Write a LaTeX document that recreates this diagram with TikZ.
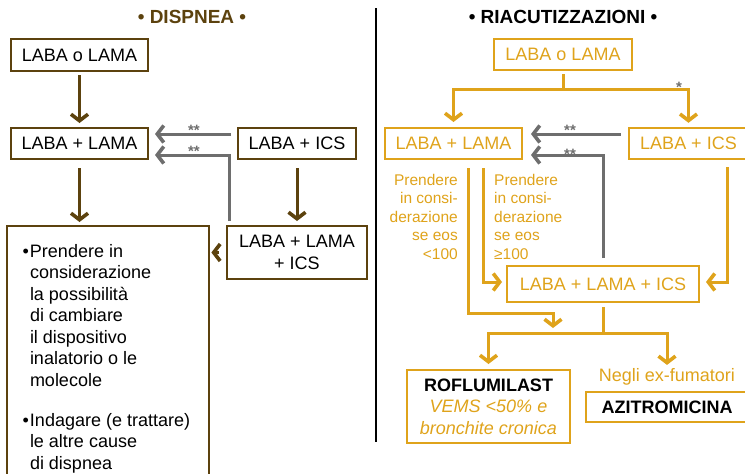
\documentclass[tikz,border=0pt]{standalone}
\usepackage{fontspec}
\setmainfont{Liberation Sans}
\usetikzlibrary{arrows.meta}
\definecolor{brn}{HTML}{5C420E}
\definecolor{gld}{HTML}{DFA31B}
\definecolor{gry}{HTML}{6E6E6E}
\begin{document}
\begin{tikzpicture}[x=1pt,y=-1pt,
  every node/.style={font=\fontsize{18}{21.5}\selectfont, inner sep=0pt},
  bbox/.style={draw=brn, line width=2pt, text=black},
  gbox/.style={draw=gld, line width=2pt, text=gld},
  barb/.style={-{Straight Barb[length=6.5pt,width=17pt,line width=3.6pt]}, line width=3pt},
  barr/.style={barb, draw=brn},
  garr/.style={barb, draw=gld},
  grarr/.style={barb, draw=gry},
  gline/.style={draw=gld, line width=3pt},
  star/.style={text=gry, font=\bfseries\fontsize{15}{15}\selectfont},
  small/.style={text=gld, font=\fontsize{15.5}{18.5}\selectfont},
  ttl/.style={font=\bfseries\fontsize{19}{22}\selectfont},
]
\useasboundingbox (0,0) rectangle (745,474);

% titles
\node[ttl, text=brn] (T1) at (192,17) {\textbullet{} DISPNEA \textbullet};
\node[ttl, text=black] (T2) at (563,17) {\textbullet{} RIACUTIZZAZIONI \textbullet};

% divider
\coordinate (d1) at (376,8);
\coordinate (d2) at (376,442);
\draw[line width=2pt, black] (d1) -- (d2);

% ---------- left panel ----------
\node[bbox, minimum width=137pt, minimum height=32pt] (L1) at (79.5,55) {LABA o LAMA};
\node[bbox, minimum width=137pt, minimum height=31pt] (L2) at (79.5,143.5) {LABA + LAMA};
\node[bbox, minimum width=118pt, minimum height=31pt] (L3) at (297,143.5) {LABA + ICS};
\node[bbox, minimum width=140pt, minimum height=53pt, align=center] (L4) at (297,252.5) {LABA + LAMA\\+ ICS};
\node[minimum width=202pt, minimum height=252pt, anchor=north west] (L5) at (7,226) {};
\draw[brn, line width=2pt] (L5.south west) |- (L5.north east) -- (L5.south east);
\node[anchor=north west, align=left] (L5t) at (22.5,242) {%
\begin{tabular}{@{}l@{\hspace{1pt}}l@{}}
\textbullet & Prendere in\\
 & considerazione\\
 & la possibilità\\
 & di cambiare\\
 & il dispositivo\\
 & inalatorio o le\\
 & molecole\\[18.5pt]
\textbullet & Indagare (e trattare)\\
 & le altre cause\\
 & di dispnea
\end{tabular}};

\draw[barr, shorten <=3pt, shorten >=4pt] (L1) -- (L2);
\draw[barr, shorten <=8pt, shorten >=4pt] (L2.south) -- (L2.south |- L5.north);
\draw[barr, shorten <=8pt, shorten >=4pt] (L3.south) -- (L3.south |- L4.north);
\draw[barr, shorten <=7pt, shorten >=2pt] (L4.west) -- (L4.west -| L5.east);
\draw[grarr, shorten <=6pt, shorten >=6pt] ([yshift=9.5pt]L3.west) -- ([yshift=9.5pt]L2.east);
\draw[grarr, shorten <=4pt, shorten >=6pt] ([xshift=3pt]L4.north west) |- ([yshift=-11.5pt]L2.east);
\node[star] (s1) at (194,130) {**};
\node[star] (s2) at (194,151) {**};

% ---------- right panel ----------
\node[gbox, minimum width=138pt, minimum height=31pt] (R1) at (563,54.5) {LABA o LAMA};
\node[gbox, minimum width=137pt, minimum height=31pt] (R2) at (453.5,143.5) {LABA + LAMA};
\node[minimum width=119pt, minimum height=31pt, text=gld] (R3) at (688.5,143.5) {LABA + ICS};
\draw[gld, line width=2pt] (R3.north east) -| (R3.south west) -- (R3.south east);
\node[gbox, minimum width=192pt, minimum height=36pt] (R4) at (603,284) {LABA + LAMA + ICS};
\node[gbox, minimum width=163pt, minimum height=73pt, align=center] (R5) at (488.5,406.5)
  {{\color{black}\bfseries ROFLUMILAST}\\ \itshape VEMS <50\% e\\ \itshape bronchite cronica};
\node[minimum width=162pt, minimum height=30pt, text=black] (R6) at (667,407) {\bfseries AZITROMICINA};
\draw[gld, line width=2pt] (R6.north east) -| (R6.south west) -- (R6.south east);
\node[text=gld] (NX) at (667,377) {Negli ex-fumatori};

\node[small, align=right, anchor=north east] (P1) at (458,174) {Prendere\\in consi-\\derazione\\se eos\\<100};
\node[small, align=left, anchor=north west] (P2) at (494,174) {Prendere\\in consi-\\derazione\\se eos\\≥100};

\coordinate (j1) at (563,89);
\draw[gline, shorten <=3pt] (R1.south) -- (j1);
\draw[garr, shorten >=5pt] (j1) -| (R2.north);
\draw[garr, shorten >=5pt] (j1) -| (R3.north);
\node[star] (s5) at (679,87) {*};

\draw[grarr, shorten <=8pt, shorten >=8pt] ([yshift=9.5pt]R3.west) -- ([yshift=9.5pt]R2.east);
\draw[grarr, shorten <=7pt, shorten >=8pt] (R4.north) |- ([yshift=-11.5pt]R2.east);
\node[star] (s3) at (570,130) {**};
\node[star] (s4) at (570,154) {**};

\coordinate (j3) at (603,333);
\coordinate (k1) at (553,313);
\draw[garr, shorten <=8pt, shorten >=5pt] ([xshift=14.5pt]R2.south) |- (k1) -- (k1 |- j3);
\draw[garr, shorten <=8pt, shorten >=4pt] ([xshift=29.5pt]R2.south) |- ([yshift=2pt]R4.west);
\draw[garr, shorten <=8pt, shorten >=6pt] ([xshift=38.5pt]R3.south) |- ([yshift=2pt]R4.east);
\draw[gline, shorten <=4pt] (R4.south) -- (j3);
\draw[garr, shorten >=5pt] (j3) -| (R5.north);
\draw[garr, shorten >=3.5pt] (j3) -| (NX.north);
\end{tikzpicture}
\end{document}
